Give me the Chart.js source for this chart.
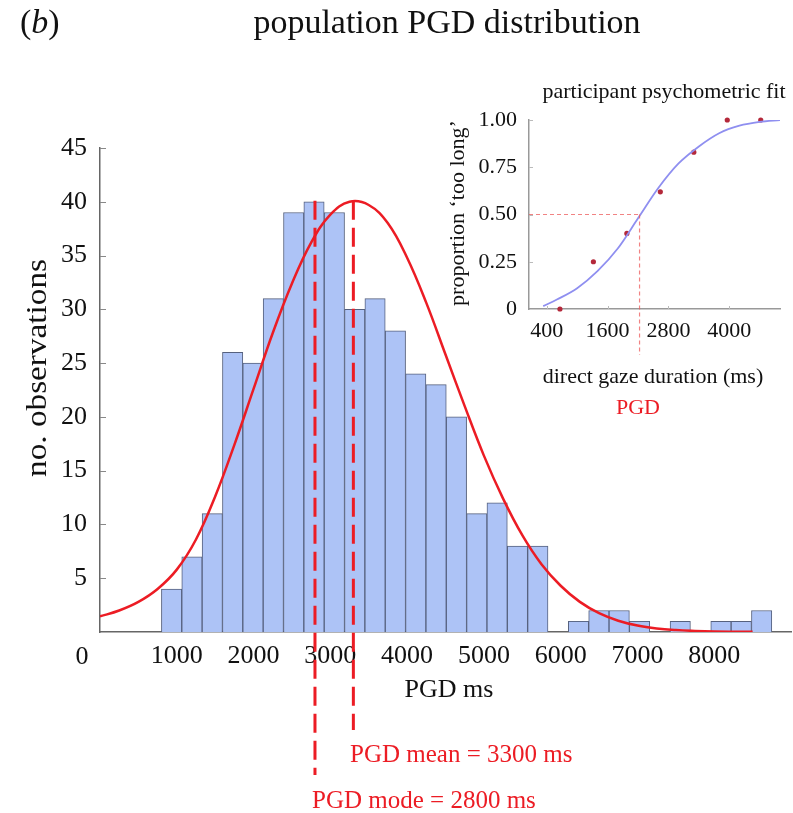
<!DOCTYPE html>
<html>
<head>
<meta charset="utf-8">
<script src="https://cdn.jsdelivr.net/npm/chart.js@4.4.1/dist/chart.umd.min.js"></script>
<style>
  body { margin: 0; background: #fff; }
  #wrap { position: relative; width: 793px; height: 813px; }
  #main { position: absolute; left: 0; top: 0; }
  #inset { position: absolute; left: 430px; top: 60px; }
</style>
</head>
<body>
<div id="wrap">
  <canvas id="main" width="793" height="813"></canvas>
  <canvas id="inset" width="363" height="370"></canvas>
</div>
<script>
const SERIF = '"Liberation Serif", "Times New Roman", serif';
const RED = '#ec1c24';

// histogram: bin centres (ms) and counts
const binCenters = [932.5, 1197.5, 1462.5, 1727.5, 1992.5, 2257.5, 2522.5, 2787.5, 3052.5, 3317.5,
  3582.5, 3847.5, 4112.5, 4377.5, 4642.5, 4907.5, 5172.5, 5437.5, 5702.5, 5967.5,
  6232.5, 6497.5, 6762.5, 7027.5, 7292.5, 7557.5, 7822.5, 8087.5, 8352.5, 8617.5];
const binCounts = [4, 7, 11, 26, 25, 31, 39, 40, 39, 30,
  31, 28, 24, 23, 20, 11, 12, 8, 8, 0,
  1, 2, 2, 1, 0, 1, 0, 1, 1, 2];

// fitted curve
const curveMs = [0, 250, 500, 750, 1000, 1250, 1500, 1750, 2000, 2250, 2500, 2750, 3000, 3250, 3500,
  3750, 4000, 4250, 4500, 4750, 5000, 5250, 5500, 5750, 6000, 6250, 6500, 6750, 7000, 7250, 7500,
  7750, 8000, 8250, 8500];
const curveCount = [1.45, 2.0, 2.8, 4.0, 5.8, 8.6, 12.6, 17.4, 22.6, 27.8, 32.4, 36.2, 38.8, 40, 39.7,
  38.0, 34.8, 30.6, 25.8, 21.0, 16.4, 12.4, 9.0, 6.3, 4.3, 2.8, 1.75, 1.05, 0.6, 0.33, 0.18,
  0.1, 0.05, 0.03, 0.02];

const modeMs = 2800;
const meanMs = 3300;
const xTickValues = [1000, 2000, 3000, 4000, 5000, 6000, 7000, 8000];

// inset: one participant
const respMs = [660, 1320, 1980, 2640, 3300, 3960, 4620];
const respProp = [0, 0.25, 0.40, 0.62, 0.83, 1.0, 1.0];
const fitMs = [330, 600, 1000, 1400, 1800, 2200, 2600, 3000, 3400, 3800, 4200, 4600, 5000];
const fitProp = [0.015, 0.05, 0.11, 0.2, 0.32, 0.48, 0.64, 0.77, 0.86, 0.93, 0.97, 0.99, 1.0];
const participantPgd = 2230;
const insetXTicks = [400, 1600, 2800, 4000];
const insetYTicks = [0, 0.25, 0.5, 0.75, 1.0];

function text(ctx, str, x, y, font, color, align, baseline) {
  ctx.font = font;
  ctx.fillStyle = color || '#111';
  ctx.textAlign = align || 'center';
  ctx.textBaseline = baseline || 'middle';
  ctx.fillText(str, x, y);
}

const mainDecor = {
  id: 'mainDecor',
  afterDraw(chart) {
    const { ctx, scales: { x, y } } = chart;
    const left = chart.chartArea.left;
    ctx.save();
    // inner y tick marks
    ctx.strokeStyle = '#888';
    ctx.lineWidth = 1;
    for (let v = 5; v <= 45; v += 5) {
      const py = Math.round(y.getPixelForValue(v)) + 0.5;
      ctx.beginPath(); ctx.moveTo(left, py); ctx.lineTo(left + 6, py); ctx.stroke();
    }
    // mode / mean dashed lines
    ctx.strokeStyle = RED;
    ctx.lineWidth = 3;
    ctx.setLineDash([19, 8]);
    const top = y.getPixelForValue(40.1);
    [[modeMs, 775], [meanMs, 730]].forEach(([ms, bottom]) => {
      const px = x.getPixelForValue(ms);
      ctx.beginPath(); ctx.moveTo(px, top); ctx.lineTo(px, bottom); ctx.stroke();
    });
    ctx.setLineDash([]);
    // texts
    text(ctx, 'population PGD distribution', 447, 24, '34px ' + SERIF, '#111');
    ctx.font = '34px ' + SERIF;
    ctx.textAlign = 'left'; ctx.textBaseline = 'middle'; ctx.fillStyle = '#111';
    ctx.fillText('(', 20, 24);
    let w = ctx.measureText('(').width;
    ctx.font = 'italic 34px ' + SERIF;
    ctx.fillText('b', 20 + w, 24);
    w += ctx.measureText('b').width;
    ctx.font = '34px ' + SERIF;
    ctx.fillText(')', 20 + w, 24);

    text(ctx, '0', 82, 657, '26px ' + SERIF, '#111');
    text(ctx, 'PGD ms', 449, 690, '26px ' + SERIF, '#111');
    // y title, slightly stretched along its length like the source figure
    ctx.save();
    ctx.font = '29px ' + SERIF;
    const yTitle = 'no. observations';
    const stretch = 218 / ctx.measureText(yTitle).width;
    ctx.translate(38, 368);
    ctx.rotate(-Math.PI / 2);
    ctx.scale(stretch, 1);
    text(ctx, yTitle, 0, 0, '29px ' + SERIF, '#111');
    ctx.restore();
    text(ctx, 'PGD mean = 3300 ms', 350, 755, '25px ' + SERIF, RED, 'left');
    text(ctx, 'PGD mode = 2800 ms', 312, 801, '25px ' + SERIF, RED, 'left');
    ctx.restore();
  }
};

new Chart(document.getElementById('main'), {
  type: 'bar',
  data: {
    datasets: [
      {
        type: 'line',
        data: curveMs.map((m, i) => ({ x: m, y: curveCount[i] })),
        borderColor: RED,
        borderWidth: 2.5,
        pointRadius: 0,
        tension: 0.4,
        fill: false,
        order: 0
      },
      {
        type: 'bar',
        data: binCenters.map((c, i) => ({ x: c, y: binCounts[i] })),
        backgroundColor: '#adc3f6',
        borderColor: '#56617e',
        borderWidth: 1,
        barPercentage: 1,
        categoryPercentage: 1,
        order: 1
      }
    ]
  },
  options: {
    responsive: false,
    animation: false,
    events: [],
    layout: { padding: { left: 40, right: 2, top: 148, bottom: 121 } },
    plugins: { legend: { display: false }, tooltip: { enabled: false } },
    scales: {
      x: {
        type: 'linear',
        offset: false,
        min: 0,
        max: 9000,
        afterFit(s) { s.height = 60; },
        afterBuildTicks(s) { s.ticks = xTickValues.map(v => ({ value: v })); },
        grid: { display: false, drawTicks: false, offset: false },
        border: { display: true, color: '#666', width: 1.5 },
        ticks: {
          color: '#111', font: { family: SERIF, size: 26 }, padding: 9, maxRotation: 0, autoSkip: false,
          callback: v => String(v)
        }
      },
      y: {
        min: 0,
        max: 45,
        afterFit(s) { s.width = 60; },
        grid: { display: false, drawTicks: false },
        border: { display: true, color: '#666', width: 1.5 },
        ticks: {
          stepSize: 5,
          color: '#111',
          font: { family: SERIF, size: 26 },
          padding: 13,
          callback: v => (v === 0 ? '' : String(v))
        }
      }
    }
  },
  plugins: [mainDecor]
});

const insetDecor = {
  id: 'insetDecor',
  afterDraw(chart) {
    const { ctx, scales: { x, y }, chartArea } = chart;
    ctx.save();
    ctx.strokeStyle = '#bbb';
    ctx.lineWidth = 1;
    insetYTicks.slice(1).forEach(v => {
      const py = Math.round(y.getPixelForValue(v)) + 0.5;
      ctx.beginPath(); ctx.moveTo(chartArea.left, py); ctx.lineTo(chartArea.left + 4, py); ctx.stroke();
    });
    insetXTicks.forEach(v => {
      const px = Math.round(x.getPixelForValue(v)) + 0.5;
      ctx.beginPath(); ctx.moveTo(px, chartArea.bottom); ctx.lineTo(px, chartArea.bottom - 3); ctx.stroke();
    });
    // PGD guide lines
    ctx.strokeStyle = 'rgba(236, 90, 90, 0.75)';
    ctx.lineWidth = 1.2;
    ctx.setLineDash([4, 3]);
    const py = y.getPixelForValue(0.5);
    const px = x.getPixelForValue(participantPgd);
    ctx.beginPath(); ctx.moveTo(chartArea.left, py); ctx.lineTo(px, py); ctx.stroke();
    ctx.beginPath(); ctx.moveTo(px, py); ctx.lineTo(px, 295); ctx.stroke();
    ctx.setLineDash([]);

    text(ctx, 'participant psychometric fit', 234, 32, '22px ' + SERIF, '#111');
    text(ctx, 'direct gaze duration (ms)', 223, 317, '22px ' + SERIF, '#111');
    text(ctx, 'PGD', 208, 348, '22px ' + SERIF, RED);
    ctx.save();
    ctx.translate(28, 153);
    ctx.rotate(-Math.PI / 2);
    text(ctx, 'proportion \u2018too long\u2019', 0, 0, '22px ' + SERIF, '#111');
    ctx.restore();
    ctx.restore();
  }
};

new Chart(document.getElementById('inset'), {
  type: 'scatter',
  data: {
    datasets: [
      {
        type: 'line',
        data: fitMs.map((m, i) => ({ x: m, y: fitProp[i] })),
        borderColor: '#8f8ff0',
        borderWidth: 1.8,
        pointRadius: 0,
        cubicInterpolationMode: 'monotone',
        fill: false
      },
      {
        data: respMs.map((m, i) => ({ x: m, y: respProp[i] })),
        backgroundColor: '#b4283a',
        borderWidth: 0,
        pointRadius: 2.6,
        clip: false
      }
    ]
  },
  options: {
    responsive: false,
    animation: false,
    events: [],
    layout: { padding: { left: 39, right: 13, top: 60, bottom: 81 } },
    plugins: { legend: { display: false }, tooltip: { enabled: false } },
    scales: {
      x: {
        type: 'linear',
        min: 50,
        max: 5000,
        afterFit(s) { s.height = 40; },
        afterBuildTicks(s) { s.ticks = insetXTicks.map(v => ({ value: v })); },
        grid: { display: false, drawTicks: false },
        border: { display: true, color: '#999', width: 1.5 },
        ticks: {
          color: '#111', font: { family: SERIF, size: 22 }, padding: 9, maxRotation: 0, autoSkip: false,
          callback: v => String(v)
        }
      },
      y: {
        min: 0,
        max: 1,
        afterFit(s) { s.width = 60; },
        afterBuildTicks(s) { s.ticks = insetYTicks.map(v => ({ value: v })); },
        grid: { display: false, drawTicks: false },
        border: { display: true, color: '#999', width: 1.5 },
        ticks: {
          color: '#111',
          font: { family: SERIF, size: 22 },
          padding: 12,
          callback: v => (v === 0 ? '0' : v.toFixed(2))
        }
      }
    }
  },
  plugins: [insetDecor]
});
</script>
</body>
</html>
